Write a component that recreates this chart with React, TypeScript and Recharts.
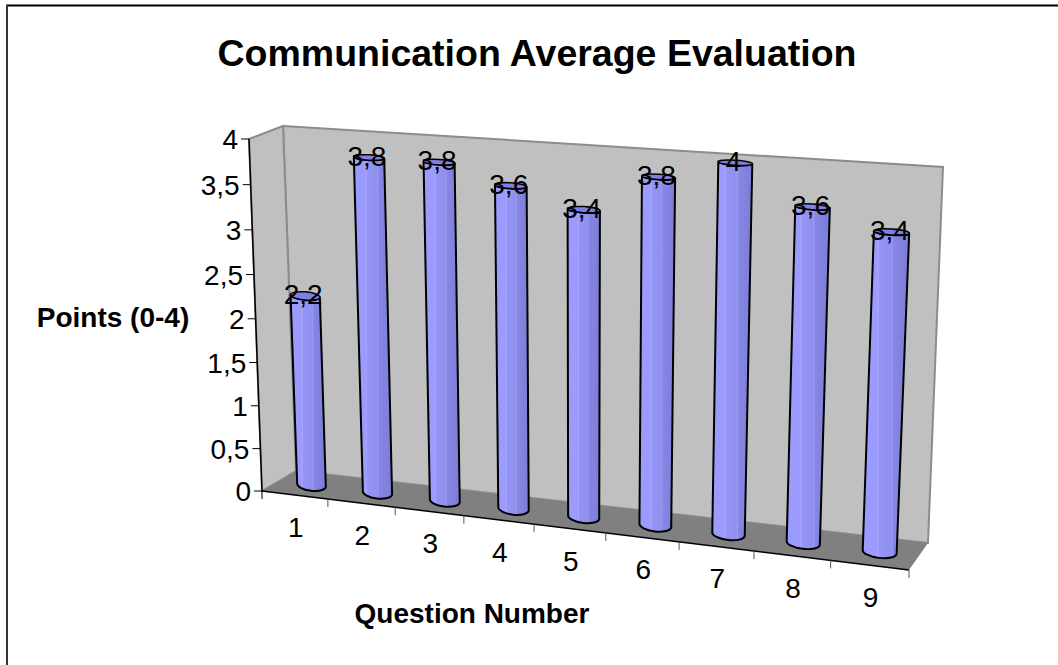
import { Bar, BarChart, LabelList, XAxis, YAxis } from 'recharts'

const questions = ['1', '2', '3', '4', '5', '6', '7', '8', '9']
const points = [2.2, 3.8, 3.8, 3.6, 3.4, 3.8, 4, 3.6, 3.4]
const pointTicks = [0, 0.5, 1, 1.5, 2, 2.5, 3, 3.5, 4]

const chartData = questions.map((q, i) => ({ question: q, points: points[i] }))

const W = 1058
const H = 665
// flat plot box recharts works in, everything gets projected out of it
const PL = 100
const PT = 100
const PW = 800
const PH = 400

type Pt = [number, number]

// square -> quad homography, corners: (0,0) (1,0) (1,1) (0,1)
function makeProjection(a: Pt, b: Pt, c: Pt, d: Pt) {
    const dx1 = b[0] - c[0]
    const dx2 = d[0] - c[0]
    const sx = a[0] - b[0] + c[0] - d[0]
    const dy1 = b[1] - c[1]
    const dy2 = d[1] - c[1]
    const sy = a[1] - b[1] + c[1] - d[1]
    const den = dx1 * dy2 - dx2 * dy1
    const g = (sx * dy2 - dx2 * sy) / den
    const h = (dx1 * sy - sx * dy1) / den
    return (u: number, v: number): Pt => {
        const w = g * u + h * v + 1
        return [
            ((b[0] - a[0] + g * b[0]) * u + (d[0] - a[0] + h * d[0]) * v + a[0]) / w,
            ((b[1] - a[1] + g * b[1]) * u + (d[1] - a[1] + h * d[1]) * v + a[1]) / w,
        ]
    }
}

// box corners as seen on screen
const FBL: Pt = [262, 491]
const FBR: Pt = [909, 570]
const FTL: Pt = [249, 139]
const FTR: Pt = [926, 184]
const BBL: Pt = [296, 471]
const BBR: Pt = [928, 543]
const BTL: Pt = [283, 126]
const BTR: Pt = [943, 167]

const mix = (p: Pt, q: Pt): Pt => [(p[0] + q[0]) / 2, (p[1] + q[1]) / 2]

const front = makeProjection(FBL, FBR, FTR, FTL)
const middle = makeProjection(mix(FBL, BBL), mix(FBR, BBR), mix(FTR, BTR), mix(FTL, BTL))

const flatU = (x: number) => (x - PL) / PW
const flatV = (y: number) => (PT + PH - y) / PH

const poly = (pts: Pt[]) => pts.map((p) => p.join(',')).join(' ')

function Cylinder(props: any) {
    const { x, y, width, height } = props
    const u0 = flatU(x)
    const u1 = flatU(x + width)
    const vTop = flatV(y)
    const vBase = flatV(y + height)
    const bl = middle(u0, vBase)
    const br = middle(u1, vBase)
    const tl = middle(u0, vTop)
    const tr = middle(u1, vTop)
    const rxB = Math.hypot(br[0] - bl[0], br[1] - bl[1]) / 2
    const rxT = Math.hypot(tr[0] - tl[0], tr[1] - tl[1]) / 2
    const angB = (Math.atan2(br[1] - bl[1], br[0] - bl[0]) * 180) / Math.PI
    const angT = (Math.atan2(tr[1] - tl[1], tr[0] - tl[0]) * 180) / Math.PI
    const ryB = 6
    const ryT = 2.5 + 3.5 * (1 - vTop)
    const body = `M${tl.join(' ')} L${bl.join(' ')} A${rxB} ${ryB} ${angB} 0 0 ${br.join(' ')} L${tr.join(' ')} A${rxT} ${ryT} ${angT} 0 1 ${tl.join(' ')} Z`
    const cap = `M${tl.join(' ')} A${rxT} ${ryT} ${angT} 0 1 ${tr.join(' ')} A${rxT} ${ryT} ${angT} 0 1 ${tl.join(' ')} Z`
    return (
        <g>
            <path d={body} fill="url(#cylinderShade)" stroke="#000" strokeWidth={2} strokeLinejoin="round" />
            <path d={cap} fill="#8080e2" stroke="#000" strokeWidth={1.5} />
        </g>
    )
}

function ValueLabel(props: any) {
    const { x, y, width, value } = props
    const [px, py] = middle(flatU(x + width / 2), flatV(y))
    return (
        <text x={px - 2} y={py + 8} textAnchor="middle" fontSize={28} fontFamily="Liberation Sans" fill="#000">
            {String(value).replace('.', ',')}
        </text>
    )
}

function QuestionTick(props: any) {
    const { x, payload, index } = props
    const band = 1 / questions.length
    const u = flatU(x)
    const edge = front(u + band / 2, 0)
    const start = front(0, 0)
    const [lx, ly] = front(u, 0)
    return (
        <g>
            {index === 0 && <line x1={start[0]} y1={start[1]} x2={start[0]} y2={start[1] + 8} stroke="#000" />}
            <line x1={edge[0]} y1={edge[1]} x2={edge[0]} y2={edge[1] + 8} stroke="#555" />
            <text x={lx + 1} y={ly + 42} textAnchor="middle" fontSize={28} fontFamily="Liberation Sans" fill="#000">
                {payload.value}
            </text>
        </g>
    )
}

function PointTick(props: any) {
    const { y, payload } = props
    const [px, py] = front(0, flatV(y))
    return (
        <g>
            <line x1={px - 8} y1={py} x2={px} y2={py} stroke="#000" />
            <text x={px - 11} y={py + 10} textAnchor="end" fontSize={28} fontFamily="Liberation Sans" fill="#000">
                {String(payload.value).replace('.', ',')}
            </text>
        </g>
    )
}

function Room() {
    return (
        <g>
            <defs>
                <linearGradient id="cylinderShade" x1="0" y1="0" x2="1" y2="0">
                    <stop offset="0" stopColor="#9a9aff" />
                    <stop offset="0.3" stopColor="#9c9cff" />
                    <stop offset="0.34" stopColor="#a4a4ff" />
                    <stop offset="0.36" stopColor="#9494f6" />
                    <stop offset="0.6" stopColor="#9090ee" />
                    <stop offset="0.63" stopColor="#9a9af4" />
                    <stop offset="0.66" stopColor="#8686e4" />
                    <stop offset="1" stopColor="#7c7cd8" />
                </linearGradient>
            </defs>
            <polygon points={poly([BTL, BTR, BBR, BBL])} fill="#c0c0c0" stroke="#8c8c8c" strokeWidth={2} />
            <polygon points={poly([FTL, BTL, BBL, FBL])} fill="#c0c0c0" stroke="#8c8c8c" strokeWidth={2} />
            <polygon points={poly([BBL, BBR, FBR, FBL])} fill="#808080" />
            <line x1={FBL[0]} y1={FBL[1]} x2={FBR[0]} y2={FBR[1]} stroke="#000" strokeWidth={1.5} />
            <line x1={FBL[0]} y1={FBL[1]} x2={FTL[0]} y2={FTL[1]} stroke="#000" strokeWidth={1.5} />
        </g>
    )
}

export default function App() {
    return (
        <div style={{ position: 'absolute', left: 0, top: 0, width: W, height: H, background: '#fff' }}>
            <BarChart
                width={W}
                height={H}
                data={chartData}
                margin={{ left: PL - 1, top: PT, right: W - PL - PW, bottom: H - PT - PH - 1 }}
                barCategoryGap="28%"
            >
                <Room />
                <XAxis
                    dataKey="question"
                    height={1}
                    axisLine={false}
                    tickLine={false}
                    tick={<QuestionTick />}
                    interval={0}
                />
                <YAxis
                    type="number"
                    domain={[0, 4]}
                    ticks={pointTicks}
                    width={1}
                    axisLine={false}
                    tickLine={false}
                    tick={<PointTick />}
                    interval={0}
                />
                <Bar dataKey="points" isAnimationActive={false} shape={<Cylinder />}>
                    <LabelList dataKey="points" content={<ValueLabel />} />
                </Bar>
                <line x1={6} y1={5.5} x2={W} y2={5.5} stroke="#000" strokeWidth={2} />
                <line x1={7} y1={5} x2={7} y2={H} stroke="#333" strokeWidth={2} />
                <text x={537} y={66} textAnchor="middle" fontSize={37.5} fontWeight="bold" fontFamily="Liberation Sans" fill="#000">
                    Communication Average Evaluation
                </text>
                <text x={113} y={327} textAnchor="middle" fontSize={28} fontWeight="bold" fontFamily="Liberation Sans" fill="#000">
                    Points (0-4)
                </text>
                <text x={472} y={623} textAnchor="middle" fontSize={28} fontWeight="bold" fontFamily="Liberation Sans" fill="#000">
                    Question Number
                </text>
            </BarChart>
        </div>
    )
}
